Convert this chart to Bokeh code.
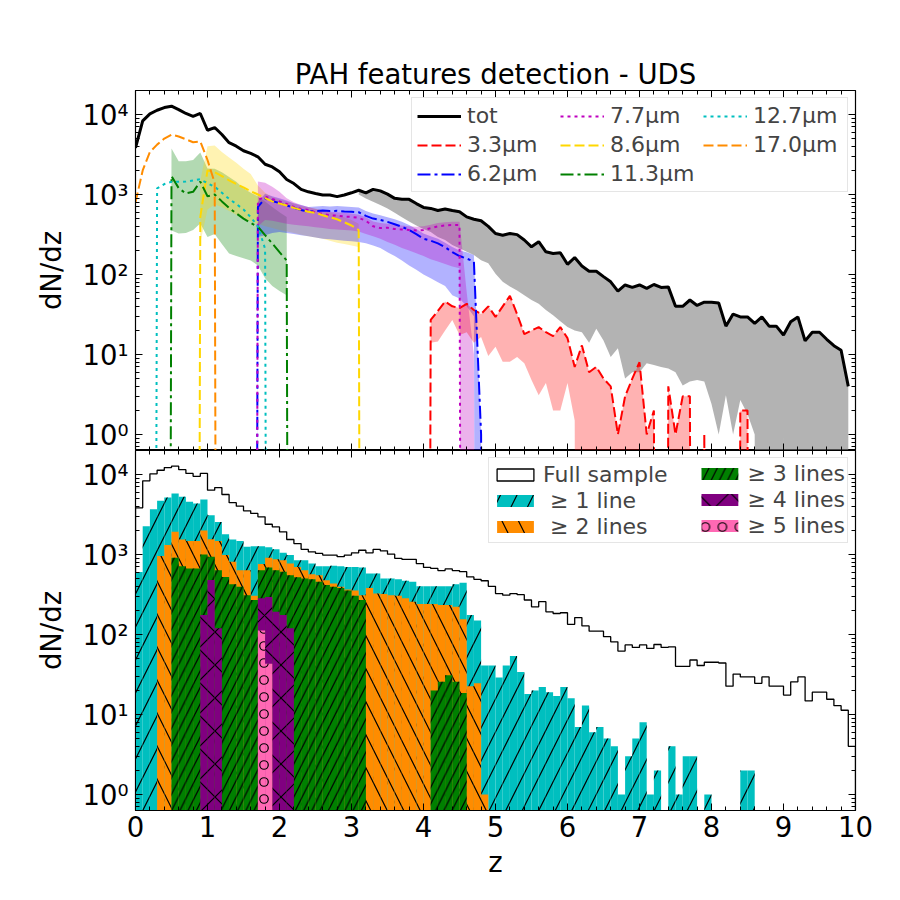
import numpy as np
from bokeh.plotting import figure
from bokeh.models import (Range1d, LogAxis, LinearAxis, FixedTicker, SingleIntervalTicker,
                          CustomJSTickFormatter, CustomLabelingPolicy, Legend, LegendItem)
from bokeh.layouts import column
from bokeh.embed import file_html
from bokeh.resources import INLINE

NAN = float("nan")

# ---------------- data (dN/dz per 0.1 bin, left bin edges 0.0 ... 9.9) ----------------
z_edges = np.round(np.linspace(0.0, 10.0, 101), 2)

tot = [3830, 8330, 10200, 11300, 12200, 12700, 11500, 10300, 9500, 10300,
       6360, 6870, 5620, 4440, 4020, 3520, 3260, 2960, 2390, 2210,
       1920, 1540, 1370, 1160, 1080, 1030, 985, 985, 940, 985,
       1050, 1130, 1050, 1160, 1110, 1010, 895, 870, 870, 770,
       690, 670, 630, 660, 630, 610, 525, 490, 470, 400,
       325, 310, 325, 315, 270, 222, 257, 192, 183, 187,
       134, 163, 128, 110, 110, 94, 81, 62, 74, 69,
       74, 67, 75, 69, 70, 40, 40, 48, 41, 45,
       45, 44, 22.6, 32, 29.5, 29.5, 24.5, 29.5, 22.6, 22.6,
       17.5, 25.6, 29.5, 14.8, 19, 19, 15.5, 12.9, 11.3, 4]

tot_lo = [NAN] * 31 + [
       1000, 890, 810, 740, 670, 590, 520, 460, 410,
       370, 340, 295, 270, 233, 213, 192, 175, 151, 138,
       102, 81, 71, 63, 55, 48, 43, 36, 31, 26,
       22, 20, 19, 14, 21, 15, 9.3, 12, 5, 6,
       6, 7.8, 7.4, 7, 6.7, 6, 4.1, 4.6, 4.8, 4.6,
       2.4, 1, 3.1, 1, 2.7, 1.8, 1, 0, 0, 0,
       1, 0, 0, 0, 0, 0, 0, 0, 0, 0]

f33 = [0] * 41 + [
       27, 35, 46, 40, 38, 43, 36, 32, 40,
       29.5, 40, 54, 32, 18, 20, 22, 19, 17, 22,
       16, 7, 13, 6, 7, 5, 4, 1, 3, 5,
       8, 1, 2, 0, 4, 1, 3, 3, 0, 1,
       0, 0, 0, 0, 2, 2, 0, 0, 0, 0,
       0, 0, 0, 0, 0, 0, 0, 0, 0, 0]
f33_lo = [0] * 41 + [
       14, 14.5, 20, 27, 17.5, 19, 14, 16.5, 9.6,
       12.5, 8.1, 8.1, 9.3, 7.8, 4.8, 3.1, 4.4, 2, 2,
       4.4, 1.5] + [0] * 38

f62 = [0] * 17 + [
       700, 890, 830,
       780, 730, 680, 640, 610, 620, 630, 620, 625, 615,
       610, 600, 540, 500, 480, 455, 425, 395, 360, 320,
       280, 265, 245, 220, 190, 170, 158, 145, 1] + [0] * 51
f62_up = [0] * 17 + [
       800, 1020, 950,
       900, 840, 780, 740, 700, 710, 720, 710, 720, 710,
       700, 690, 620, 580, 550, 520, 490, 455, 415, 370,
       325, 300, 280, 250, 220, 200, 190, 175, 1] + [0] * 51
f62_lo = [0] * 17 + [
       295, 310, 330,
       340, 330, 320, 310, 300, 290, 280, 275, 270, 265,
       260, 255, 245, 230, 215, 190, 170, 150, 130, 115,
       100, 90, 80, 72, 55, 50, 40, 30, 0] + [0] * 51

f77 = [0] * 17 + [
       850, 940, 880,
       820, 760, 700, 660, 640, 600, 570, 550, 545, 530,
       525, 510, 470, 400, 380, 385, 370, 365, 360, 355,
       360, 380, 400, 410, 415, 415] + [0] * 54
f77_up = [0] * 17 + [
       1450, 1400, 1250,
       1080, 900, 800, 740, 700, 660, 630, 610, 600, 590,
       580, 560, 520, 460, 440, 430, 420, 410, 400, 395,
       400, 420, 440, 450, 455, 455, 60, 10] + [0] * 52
f77_lo = [0] * 17 + [
       400, 480, 470,
       450, 430, 420, 410, 400, 390, 380, 370, 365, 360,
       355, 345, 320, 300, 280, 255, 235, 215, 200, 185,
       170, 155, 145, 135, 126, 120, 0, 0] + [0] * 52

f86 = [0] * 9 + [
       525,
       2000, 1900, 1700, 1500, 1350, 1230, 1100, 1000, 900, 820,
       770, 730, 680, 640, 610, 590, 550, 520, 490, 450,
       410, 360] + [0] * 68
f86_up = [0] * 9 + [
       1500,
       4000, 4100, 3400, 2900, 2500, 2100, 1800, 1300, 1050, 930,
       870, 820, 770, 720, 690, 670, 630, 600, 560, 520,
       480, 430] + [0] * 68
f86_lo = [0] * 9 + [
       250,
       650, 750, 700, 620, 560, 500, 460, 430, 400, 380,
       360, 345, 330, 315, 300, 290, 280, 265, 250, 240,
       230, 220] + [0] * 68

f113 = [0] * 5 + [
       1700, 1200, 1030, 1080, 1450,
       950, 1000, 820, 680, 580, 500, 440, 395, 310, 245,
       190, 150] + [0] * 78
f113_up = [0] * 5 + [
       3760, 2600, 2600, 2700, 3350,
       2110, 2100, 1900, 1650, 1440, 1200, 1050, 950, 820, 700,
       600, 525] + [0] * 78
f113_lo = [0] * 5 + [
       355, 325, 330, 360, 435,
       295, 320, 240, 183, 170, 160, 150, 130, 90, 72,
       62, 55] + [0] * 78

f127 = [0] * 3 + [
       1190, 1350, 1440, 1440, 1450, 1500, 1550,
       1380, 1250, 1050, 880, 760, 650, 520, 400, 210] + [0] * 81

f170 = [800, 2000, 3400, 4200, 5000, 5600, 5300, 4900, 4500, 4600,
        2700, 1400] + [0] * 88

n_ge1 = [606, 2260, 3690, 4690, 5160, 5790, 5260, 4560, 4340, 4870,
         3100, 2540, 1790, 1540, 1480, 1250, 1270, 1270, 1230, 1160,
         1050, 985, 850, 850, 770, 715, 715, 725, 715, 700,
         700, 690, 580, 580, 500, 500, 490, 470, 455, 400,
         400, 400, 400, 400, 425, 445, 175, 150, 41, 41,
         29, 41, 54, 34, 18, 20, 22, 19, 17, 22,
         16, 7, 13, 6, 7, 5, 4, 1, 3, 5,
         8, 1, 2, 0, 4, 1, 3, 3, 0, 1,
         0, 0, 0, 0, 2, 2, 0, 0, 0, 0,
         0, 0, 0, 0, 0, 0, 0, 0, 0, 0]
n_ge2 = [0, 0, 0, 955, 1310, 1920, 1540, 1480, 1480, 2000,
         1550, 1470, 985, 810, 635, 635, 305, 760, 910, 870,
         850, 770, 700, 635, 565, 550, 475, 435, 395, 365,
         355, 310, 380, 325, 320, 310, 305, 283, 257, 240,
         240, 240, 233, 233, 222, 155, 22.6, 24.5, 1, 0] + [0] * 50
n_ge3 = [0, 0, 0, 0, 0, 910, 715, 670, 670, 1000,
         940, 635, 525, 425, 395, 310, 270, 635, 690, 635,
         610, 550, 520, 500, 490, 455, 415, 395, 380, 355,
         305, 270, 0, 0, 0, 0, 0, 0, 0, 0,
         0, 20, 25.6, 31, 25.6, 18.6, 0, 0, 0, 0] + [0] * 50
n_ge4 = [0] * 9 + [175, 480, 120, 0, 0, 0, 0, 0, 283, 295, 192, 175, 120] + [0] * 78
n_ge5 = [0] * 17 + [112, 43] + [0] * 81

# ---------------- helpers ----------------
FONT = "DejaVu Sans"
FLOOR = 1e-30          # zero counts are clipped far below the log axis
z_left = z_edges[:-1]
Y0, Y1 = 10 ** -0.2, 10 ** 4.3


def pos(a):
    a = np.asarray(a, dtype=float)
    return np.where(a > 0, a, FLOOR)


sup_fmt = CustomJSTickFormatter(code="""
const s = {'0':'\u2070','1':'\u00b9','2':'\u00b2','3':'\u00b3','4':'\u2074','5':'\u2075','-':'\u207b'};
const e = Math.round(Math.log10(tick));
return '10' + String(e).split('').map(c => s[c]).join('');
""")

y_major = [1, 10, 100, 1000, 10000]
y_minor = [k * 10.0 ** d for d in range(-1, 5) for k in range(2, 10)]


def no_labels():
    return CustomLabelingPolicy(code="""
const all = Array.from(indices);
for (const i of all) indices.unset(i);
return indices;
""")


def style_axis(ax, labels=True, log=False):
    ax.major_tick_in = 7
    ax.major_tick_out = 0
    ax.minor_tick_in = 4
    ax.minor_tick_out = 0
    ax.axis_line_color = "black"
    ax.major_tick_line_color = "black"
    ax.minor_tick_line_color = "black"
    ax.major_label_text_font = FONT
    ax.major_label_text_font_size = "27.5px"
    ax.major_label_text_color = "black"
    ax.major_label_standoff = 7
    ax.axis_label_text_font = FONT
    ax.axis_label_text_font_size = "27.5px"
    ax.axis_label_text_font_style = "normal"
    ax.axis_label_text_color = "black"
    if log:
        ax.ticker = FixedTicker(ticks=y_major, minor_ticks=y_minor)
        ax.formatter = sup_fmt
    else:
        ax.ticker = SingleIntervalTicker(interval=1, num_minor_ticks=5)
    if not labels:
        ax.major_label_text_font_size = "1px"
        ax.major_label_standoff = 0
        ax.major_label_policy = no_labels()


def make_fig(top, bottom):
    p = figure(x_range=Range1d(0, 10), y_range=Range1d(Y0, Y1),
               y_axis_type="log", frame_width=720, frame_height=360,
               output_backend="svg", toolbar_location=None,
               min_border_left=135, min_border_right=30,
               min_border_top=top, min_border_bottom=bottom)
    p.grid.visible = False
    p.outline_line_color = "black"
    p.outline_line_width = 1.2
    p.add_layout(LogAxis(fixed_location=10), "right")
    p.add_layout(LinearAxis(fixed_location=Y1), "above")
    for ax in p.left:
        style_axis(ax, labels=True, log=True)
        ax.axis_label = "dN/dz"
        ax.axis_label_standoff = 12
    for ax in p.right:
        style_axis(ax, labels=False, log=True)
    for ax in p.above:
        style_axis(ax, labels=False)
    return p


# ---------------- top panel ----------------
p1 = make_fig(90, 0)
for ax in p1.below:
    style_axis(ax, labels=False)
    ax.fixed_location = Y0
p1.title.text = "PAH features detection - UDS"
p1.title.align = "center"
p1.title.text_font = FONT
p1.title.text_font_size = "27.5px"
p1.title.text_font_style = "normal"
p1.title.text_color = "black"
p1.title.standoff = 2

tot_a = np.asarray(tot, float)
lo_a = np.asarray(tot_lo, float)
m = ~np.isnan(lo_a)
p1.varea(x=z_left[m], y1=pos(lo_a[m]), y2=tot_a[m], fill_color="gray", fill_alpha=0.6)

bands = [
    (f113_lo, f113_up, "green"),
    (f86_lo, f86_up, "gold"),
    (f62_lo, f62_up, "blue"),
    (f77_lo, f77_up, "#bf00bf"),
    (f33_lo, f33, "red"),
]
for lo, up, col in bands:
    p1.varea(x=z_left, y1=pos(lo), y2=pos(up), fill_color=col, fill_alpha=0.3)

lines = [
    ("tot", tot, "black", "solid", 3),
    ("3.3\u03bcm", f33, "red", "10 4", 2),
    ("6.2\u03bcm", f62, "blue", "13 4 3 4", 2),
    ("7.7\u03bcm", f77, "#bf00bf", "3 4", 2),
    ("8.6\u03bcm", f86, "gold", "10 4", 2),
    ("11.3\u03bcm", f113, "green", "13 4 3 4", 2),
    ("12.7\u03bcm", f127, "#00bfbf", "3 4", 2),
    ("17.0\u03bcm", f170, "darkorange", "10 4", 2),
]
items1 = []
for lab, arr, col, dash, w in lines:
    r = p1.line(z_left, pos(arr), line_color=col, line_dash=dash, line_width=w)
    items1.append(LegendItem(label=lab, renderers=[r]))

leg1 = Legend(items=items1, location="top_right", orientation="vertical", nrows=3,
              margin=7, padding=5, spacing=4, glyph_width=44, glyph_height=22,
              label_height=22, label_width=89, label_standoff=6,
              label_text_font=FONT, label_text_font_size="22px",
              border_line_color="#cccccc", background_fill_alpha=0.8)
p1.add_layout(leg1)

# ---------------- bottom panel ----------------
p2 = make_fig(0, 80)
for ax in p2.below:
    style_axis(ax, labels=True)
    ax.major_label_standoff = 5
    ax.axis_label = "z"
    ax.axis_label_standoff = 6


def hist(p, counts, color, hatch, scale):
    c = np.asarray(counts, float)
    k = c > 0
    return p.quad(left=z_edges[:-1][k], right=z_edges[1:][k], bottom=FLOOR, top=c[k],
                  fill_color=color, line_color=None, hatch_pattern=hatch,
                  hatch_color="black", hatch_scale=scale, hatch_weight=1.2)


r_full = p2.patch(np.repeat(z_edges, 2),
                  np.concatenate([[FLOOR], np.repeat(tot_a, 2), [FLOOR]]),
                  fill_color=None, line_color="black", line_width=1.3)
r1 = hist(p2, n_ge1, "#00bfbf", "/", 33)
r2 = hist(p2, n_ge2, "darkorange", "\\", 33)
r3 = hist(p2, n_ge3, "green", "/", 16.5)
r4 = hist(p2, n_ge4, "purple", "x", 33)
r5 = hist(p2, n_ge5, "hotpink", "o", 17)

leg_common = dict(location="top_right", orientation="vertical", margin=7, padding=3,
                  spacing=0, glyph_width=46, glyph_height=15, label_height=26,
                  label_standoff=5, label_text_font=FONT, label_text_font_size="22px")
leg2a = Legend(items=[LegendItem(label="Full sample", renderers=[r_full]),
                      LegendItem(label=" \u2265 1 line", renderers=[r1]),
                      LegendItem(label=" \u2265 2 lines", renderers=[r2])],
               label_width=301, border_line_color="#cccccc", background_fill_alpha=0.8,
               **leg_common)
leg2b = Legend(items=[LegendItem(label="\u2265 3 lines", renderers=[r3]),
                      LegendItem(label="\u2265 4 lines", renderers=[r4]),
                      LegendItem(label="\u2265 5 lines", renderers=[r5])],
               label_width=97, border_line_color="#cccccc", border_line_alpha=0.0,
               background_fill_alpha=0.0, **leg_common)
p2.add_layout(leg2a)
p2.add_layout(leg2b)

layout = column(p1, p2)
open("out.html", "w").write(file_html(layout, INLINE))
